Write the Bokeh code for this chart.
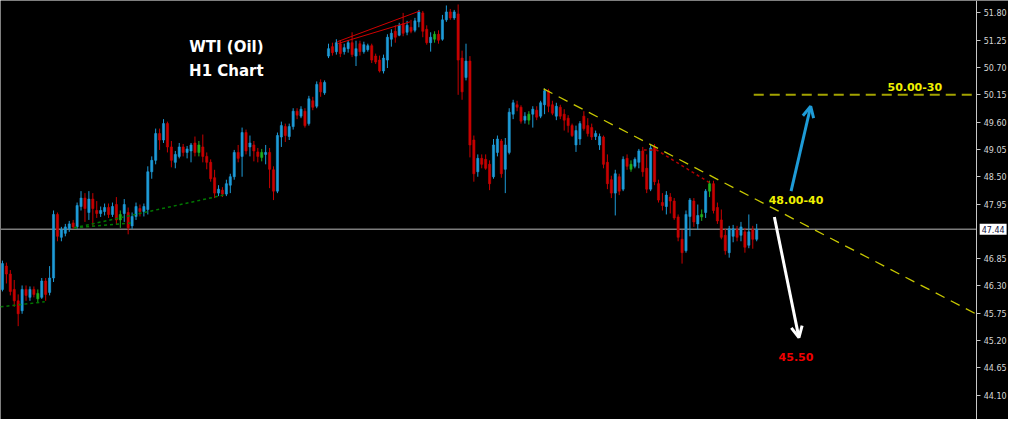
from bokeh.plotting import figure
from bokeh.models import (ColumnDataSource, FixedTicker, PrintfTickFormatter, LinearAxis,
                          Label, Arrow, OpenHead, Range1d)
from bokeh.embed import file_html
from bokeh.resources import INLINE
from bokeh.core.properties import value

# ---------------- data (WTI H1) ----------------
opens = [
    46.23, 46.70, 46.54, 46.23, 46.00, 45.80, 46.23, 46.07, 46.23, 46.15,
    46.07, 46.40, 46.17, 46.46, 47.74, 47.28, 47.36, 47.45, 47.57, 47.49,
    47.90, 48.07, 47.78, 48.05, 47.82, 47.76, 47.80, 47.88, 47.74, 47.94,
    47.63, 47.76, 47.78, 47.51, 47.70, 47.86, 47.80, 47.84, 48.60, 48.83,
    49.37, 49.24, 49.57, 49.10, 48.79, 48.91, 49.10, 48.99, 49.02, 49.18,
    48.99, 49.10, 48.91, 48.79, 48.48, 48.17, 48.23, 48.15, 48.33, 48.50,
    48.99, 48.91, 49.39, 49.10, 49.14, 49.00, 48.89, 48.95, 48.99, 48.64,
    48.21, 49.30, 49.51, 49.31, 49.51, 49.82, 49.72, 49.82, 49.57, 50.03,
    49.92, 50.40, 50.19, 50.93, 51.12, 51.02, 51.18, 51.02, 51.08, 51.20,
    50.93, 51.18, 51.02, 51.06, 51.14, 50.93, 50.85, 50.63, 50.85, 51.27,
    51.43, 51.35, 51.58, 51.41, 51.51, 51.45, 51.62, 51.80, 51.47, 51.20,
    51.27, 51.37, 51.27, 51.66, 51.82, 51.70, 51.78, 50.89, 50.50, 50.83,
    49.24, 48.60, 48.87, 48.85, 48.75, 48.50, 48.99, 49.22, 48.65, 48.99,
    49.76, 49.95, 49.90, 49.64, 49.64, 49.76, 49.84, 49.72, 49.95, 50.23,
    49.95, 49.72, 49.90, 49.76, 49.68, 49.53, 49.14, 49.26, 49.72, 49.53,
    49.49, 49.31, 49.14, 49.30, 48.79, 48.44, 48.17, 48.50, 48.25, 48.87,
    48.65, 48.71, 48.79, 49.02, 48.67, 48.25, 49.10, 48.36, 47.98, 47.90,
    48.09, 48.01, 47.69, 47.24, 47.01, 47.70, 48.01, 47.55, 47.74, 47.78,
    48.21, 48.36, 47.88, 47.63, 47.32, 46.97, 47.30, 47.43, 47.32, 47.39,
    47.12, 47.43, 47.24]

closes = [
    46.75, 46.54, 46.19, 46.00, 45.74, 46.23, 46.11, 46.23, 46.13, 46.04,
    46.40, 46.13, 46.46, 47.74, 47.30, 47.43, 47.49, 47.55, 47.49, 47.92,
    48.07, 47.86, 48.05, 47.86, 47.76, 47.82, 47.88, 47.74, 47.90, 47.63,
    47.74, 47.94, 47.47, 47.70, 47.90, 47.80, 47.90, 48.60, 48.83, 49.37,
    49.24, 49.57, 49.10, 48.83, 48.95, 49.10, 48.99, 49.06, 49.14, 48.99,
    49.14, 48.91, 48.79, 48.46, 48.17, 48.25, 48.15, 48.36, 48.50, 48.99,
    48.87, 49.39, 49.02, 49.18, 49.02, 48.91, 48.99, 48.99, 48.65, 48.21,
    49.33, 49.53, 49.33, 49.51, 49.82, 49.74, 49.86, 49.53, 50.07, 49.90,
    50.36, 50.21, 50.40, 51.08, 51.00, 51.20, 50.98, 51.10, 51.20, 50.96,
    51.08, 51.02, 51.16, 51.14, 50.85, 50.81, 50.63, 50.89, 51.31, 51.39,
    51.31, 51.55, 51.39, 51.55, 51.43, 51.64, 51.82, 51.43, 51.20, 51.31,
    51.37, 51.25, 51.66, 51.82, 51.70, 51.82, 50.85, 50.21, 50.83, 49.14,
    48.56, 48.87, 48.75, 48.67, 48.36, 49.14, 49.26, 48.56, 49.14, 49.80,
    49.99, 49.90, 49.62, 49.72, 49.76, 49.86, 49.70, 49.99, 50.23, 49.92,
    49.78, 49.92, 49.72, 49.64, 49.53, 49.33, 49.43, 49.57, 49.47, 49.37,
    49.30, 49.37, 49.31, 48.75, 48.36, 48.17, 48.56, 48.21, 48.85, 48.71,
    48.75, 48.85, 49.02, 48.60, 48.25, 49.08, 48.40, 48.03, 47.92, 48.13,
    48.01, 47.67, 47.28, 46.97, 47.74, 48.03, 47.59, 47.72, 47.69, 48.21,
    48.36, 47.82, 47.61, 47.28, 47.01, 47.45, 47.45, 47.28, 47.49, 47.08,
    47.39, 47.24, 47.44]

highs = [
    46.81, 46.77, 46.62, 46.42, 46.13, 46.31, 46.31, 46.29, 46.29, 46.23,
    46.46, 46.46, 46.70, 47.82, 47.78, 47.49, 47.55, 47.61, 47.63, 47.98,
    48.21, 48.17, 48.21, 48.17, 48.01, 47.90, 47.96, 47.96, 47.98, 48.09,
    47.82, 48.05, 47.88, 47.78, 47.98, 47.94, 47.96, 48.71, 48.91, 49.47,
    49.47, 49.66, 49.61, 49.22, 49.02, 49.18, 49.16, 49.12, 49.18, 49.31,
    49.22, 49.35, 48.99, 48.85, 48.64, 48.33, 48.29, 48.44, 48.56, 49.04,
    49.14, 49.49, 49.45, 49.33, 49.22, 49.08, 49.06, 49.14, 49.08, 48.71,
    49.39, 49.61, 49.57, 49.57, 49.88, 49.88, 49.92, 49.88, 50.13, 50.11,
    50.42, 50.46, 50.44, 51.18, 51.20, 51.27, 51.24, 51.18, 51.25, 51.41,
    51.24, 51.24, 51.22, 51.18, 51.18, 50.98, 50.94, 50.96, 51.37, 51.47,
    51.55, 51.60, 51.80, 51.64, 51.66, 51.70, 51.86, 51.84, 51.55, 51.41,
    51.43, 51.45, 51.76, 51.95, 51.88, 51.86, 51.97, 51.04, 51.18, 50.93,
    49.33, 48.95, 48.95, 48.95, 48.83, 49.26, 49.33, 49.26, 49.28, 49.88,
    50.05, 50.03, 49.94, 49.80, 49.82, 49.92, 49.92, 50.03, 50.28, 50.27,
    50.03, 49.99, 49.95, 49.86, 49.74, 49.57, 49.53, 49.62, 49.82, 49.68,
    49.57, 49.43, 49.37, 49.33, 48.95, 48.52, 48.64, 48.56, 48.91, 48.95,
    48.83, 48.89, 49.06, 49.10, 48.95, 49.14, 49.16, 48.44, 48.17, 48.21,
    48.17, 48.07, 47.74, 47.43, 47.82, 48.07, 48.07, 47.94, 47.84, 48.25,
    48.42, 48.42, 47.98, 47.84, 47.45, 47.51, 47.53, 47.51, 47.59, 47.47,
    47.74, 47.51, 47.55]

lows = [
    46.19, 46.35, 46.11, 45.88, 45.49, 45.74, 46.00, 46.00, 46.07, 45.96,
    46.04, 46.00, 46.11, 46.38, 47.20, 47.20, 47.30, 47.39, 47.45, 47.45,
    47.82, 47.59, 47.63, 47.51, 47.67, 47.69, 47.72, 47.67, 47.69, 47.53,
    47.47, 47.59, 47.34, 47.45, 47.63, 47.70, 47.70, 47.74, 48.46, 48.75,
    49.04, 49.18, 48.99, 48.69, 48.67, 48.87, 48.91, 48.87, 48.79, 48.91,
    48.91, 48.79, 48.65, 48.40, 48.07, 48.11, 48.09, 48.11, 48.17, 48.44,
    48.79, 48.50, 48.95, 48.91, 48.81, 48.79, 48.81, 48.75, 48.27, 48.03,
    48.17, 49.10, 49.20, 49.24, 49.45, 49.66, 49.68, 49.49, 49.53, 49.84,
    49.88, 50.11, 50.15, 50.89, 50.94, 50.96, 50.91, 50.96, 51.00, 50.91,
    50.73, 50.94, 50.98, 51.02, 50.79, 50.77, 50.60, 50.58, 50.69, 51.12,
    51.20, 51.33, 51.33, 51.35, 51.39, 51.41, 51.51, 51.31, 51.16, 51.02,
    51.20, 51.18, 51.24, 51.62, 51.66, 51.66, 50.15, 50.05, 50.44, 48.89,
    48.40, 48.50, 48.67, 48.64, 48.23, 48.46, 48.91, 48.48, 48.17, 48.95,
    49.66, 49.82, 49.57, 49.57, 49.55, 49.49, 49.64, 49.68, 49.76, 49.80,
    49.74, 49.64, 49.66, 49.43, 49.39, 49.30, 49.00, 49.14, 49.43, 49.31,
    49.24, 49.24, 49.04, 48.67, 48.25, 48.07, 47.72, 48.13, 48.21, 48.64,
    48.60, 48.67, 48.67, 48.50, 48.17, 48.21, 48.33, 47.98, 47.82, 47.74,
    47.76, 47.63, 47.20, 46.75, 46.97, 47.30, 47.49, 47.43, 47.61, 47.67,
    48.09, 47.76, 47.55, 47.24, 46.93, 46.87, 47.18, 47.20, 47.20, 46.97,
    47.06, 47.05, 47.20]

green_bars = [9, 30, 50, 66, 110, 134, 160, 178, 180]

# 47.40 is hidden behind the current-price box on the original scale
price_ticks = [44.10, 44.65, 45.20, 45.75, 46.30, 46.85, 47.95,
               48.50, 49.05, 49.60, 50.15, 50.70, 51.25, 51.80]
last_price = 47.44

# price-scale position (bar index where the scale sits) and view extent
scale_at = 248.0
x_view = (-0.5, 256.1)
y_view = (43.61, 52.05)

# annotation geometry (bar index, price)
trend_x, trend_y = [137.75, 248.0], [50.27, 45.73]
target_x, target_y = [191.25, 248.0], [50.15, 50.15]
red1_x, red1_y = [85.25, 106.25], [51.22, 51.84]
red2_x, red2_y = [85.25, 103.75], [51.18, 51.62]
grn1_x, grn1_y = [-0.5, 10.75], [45.88, 45.98]
grn2_x, grn2_y = [18.25, 32.75], [47.47, 47.57]
grn3_x, grn3_y = [18.25, 56.25], [47.47, 48.13]
rdot_x, rdot_y = [163.25, 166.5, 180.0], [49.04, 49.04, 48.38]
up_arrow = (200.75, 48.21, 205.75, 49.92)
dn_arrow = (196.5, 47.69, 202.75, 45.26)

UP, DOWN, NEUTRAL = "#1E9BD7", "#C80000", "#1FAF1F"

n = len(closes)
xs = list(range(n))
cols = []
for i in xs:
    if i in green_bars:
        cols.append(NEUTRAL)
    elif closes[i] >= opens[i]:
        cols.append(UP)
    else:
        cols.append(DOWN)

src = ColumnDataSource(dict(
    x=xs, high=highs, low=lows, color=cols,
    top=[max(o, c) for o, c in zip(opens, closes)],
    bottom=[min(o, c) for o, c in zip(opens, closes)],
))

p = figure(width=1008, height=419, output_backend="svg", toolbar_location=None,
           x_range=Range1d(*x_view), y_range=Range1d(*y_view),
           x_axis_location=None, y_axis_location=None,
           background_fill_color="black", border_fill_color="black",
           outline_line_color=None, min_border_left=0, min_border_top=0,
           min_border_bottom=0, min_border_right=0)
p.grid.visible = False

ax = LinearAxis(fixed_location=scale_at)
ax.ticker = FixedTicker(ticks=price_ticks)
ax.formatter = PrintfTickFormatter(format="%.2f")
ax.axis_line_color = "#c8c8c8"
ax.major_tick_line_color = "#c8c8c8"
ax.minor_tick_line_color = None
ax.major_tick_in = 0
ax.major_tick_out = 4
ax.major_label_text_color = "#d6d6d6"
ax.major_label_text_font = "DejaVu Sans"
ax.major_label_text_font_size = "8px"
ax.major_label_standoff = 3
p.add_layout(ax, "right")

# current price line
p.line([x_view[0], scale_at], [last_price, last_price], line_color="#7c7c7c", line_width=1.5)

p.segment(x0="x", y0="high", x1="x", y1="low", line_color="color", line_width=1, source=src)
p.vbar(x="x", width=0.55, top="top", bottom="bottom", fill_color="color",
       line_color="color", line_width=0.6, source=src)

p.line(trend_x, trend_y, line_color="#C8C800", line_width=1.3, line_dash="10 7")
p.line(target_x, target_y, line_color="#A3A300", line_width=2, line_dash="10 6")
p.line(red1_x, red1_y, line_color="#D00000", line_width=1)
p.line(red2_x, red2_y, line_color="#D00000", line_width=1)
for gx, gy in ((grn1_x, grn1_y), (grn2_x, grn2_y), (grn3_x, grn3_y)):
    p.line(gx, gy, line_color="#007800", line_width=1.5, line_dash="3 3")
p.line(rdot_x, rdot_y, line_color="#B00000", line_width=1.5, line_dash="3 3")

p.add_layout(Arrow(end=OpenHead(size=11, line_color=UP, line_width=3),
                   x_start=up_arrow[0], y_start=up_arrow[1], x_end=up_arrow[2], y_end=up_arrow[3],
                   line_color=UP, line_width=3))
p.add_layout(Arrow(end=OpenHead(size=11, line_color="white", line_width=3),
                   x_start=dn_arrow[0], y_start=dn_arrow[1], x_end=dn_arrow[2], y_end=dn_arrow[3],
                   line_color="white", line_width=3))

texts = dict(
    x=[57, 57, 232.25, 202, 202],
    y=[51.12, 50.63, 50.30, 48.03, 44.87],
    t=["WTI (Oil)", "H1 Chart", "50.00-30", "48.00-40", "45.50"],
    c=["white", "white", "#F0F000", "#F0F000", "#F00000"],
    s=["15px", "15px", "11px", "11px", "11px"],
)
p.text(x="x", y="y", text="t", text_color="c", text_font_size="s",
       text_font=value("DejaVu Sans"), text_font_style="bold",
       text_align="center", text_baseline="middle", source=ColumnDataSource(texts))

price_box = Label(x=scale_at, y=last_price, x_offset=3, text="47.44", text_font="DejaVu Sans",
                  text_font_size="8px", text_color="#101040", text_baseline="middle",
                  background_fill_color="white", level="overlay")
try:
    price_box.padding = 2
except Exception:
    pass
p.add_layout(price_box)

open("out.html", "w").write(file_html(p, INLINE))
